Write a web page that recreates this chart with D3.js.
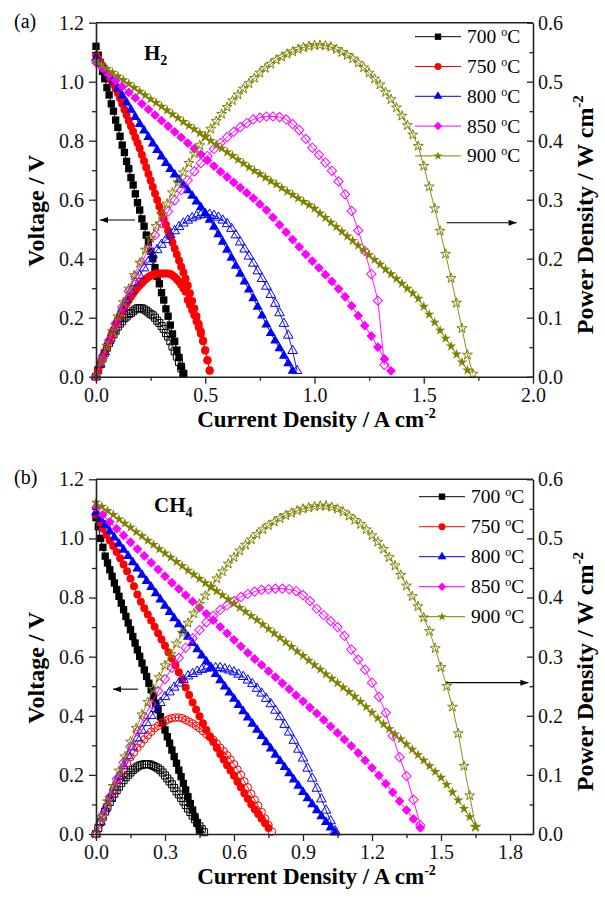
<!DOCTYPE html>
<html>
<head>
<meta charset="utf-8">
<script src="https://cdn.jsdelivr.net/npm/d3@7"></script>
<style>
  body { margin: 0; background: #fff; }
  svg text { font-family: "Liberation Serif", "Times New Roman", serif; }
</style>
</head>
<body>
<svg id="chart" width="605" height="899"></svg>
<script>
// ---------------- data ----------------
const temperatures = ["700", "750", "800", "850", "900"];
const seriesColors = ["#000000", "#ff0000", "#0000ff", "#ff00ff", "#808000"];

const voltageTicks = [0, 0.2, 0.4, 0.6, 0.8, 1.0, 1.2];
const voltageMinor = [0.1, 0.3, 0.5, 0.7, 0.9, 1.1];
const powerTicks = [0, 0.1, 0.2, 0.3, 0.4, 0.5, 0.6];
const powerMinor = [0.05, 0.15, 0.25, 0.35, 0.45, 0.55];
const h2CurrentTicks = [0, 0.5, 1.0, 1.5, 2.0];
const h2CurrentMinor = [0.25, 0.75, 1.25, 1.75];
const ch4CurrentTicks = [0, 0.3, 0.6, 0.9, 1.2, 1.5, 1.8];
const ch4CurrentMinor = [0.15, 0.45, 0.75, 1.05, 1.35, 1.65];

// (a) H2 fuel: current sweep step (A cm-2) per temperature; point i sits at i * step
const h2Step = [0.01, 0.01, 0.02, 0.03, 0.025];
// cell voltage (V)
const h2V700 = [1.12,1.09,1.065,1.035,1.01,0.98,0.955,0.925,0.90,0.87,0.845,0.815,0.785,0.76,0.73,0.705,0.675,0.65,0.62,0.59,0.565,0.535,0.51,0.48,0.455,0.425,0.40,0.37,0.34,0.315,0.285,0.26,0.23,0.205,0.175,0.145,0.12,0.09,0.065,0.035,0.01];
const h2V750 = [1.090,1.078,1.066,1.054,1.042,1.030,1.017,1.004,0.991,0.978,0.962,0.944,0.925,0.906,0.887,0.868,0.849,0.830,0.811,0.792,0.774,0.752,0.731,0.709,0.687,0.665,0.643,0.621,0.599,0.577,0.556,0.535,0.515,0.495,0.475,0.455,0.435,0.414,0.394,0.373,0.353,0.332,0.309,0.283,0.257,0.231,0.205,0.179,0.153,0.123,0.089,0.056,0.022];
const h2V800 = [1.080,1.060,1.040,1.020,1.000,0.977,0.953,0.929,0.905,0.880,0.856,0.834,0.812,0.790,0.768,0.746,0.724,0.704,0.685,0.667,0.650,0.632,0.613,0.594,0.574,0.554,0.532,0.508,0.483,0.457,0.430,0.403,0.376,0.349,0.322,0.295,0.266,0.237,0.207,0.177,0.148,0.122,0.096,0.071,0.045,0.020];
const h2V850 = [1.065,1.045,1.024,1.004,0.983,0.964,0.945,0.925,0.906,0.887,0.868,0.849,0.830,0.811,0.792,0.773,0.754,0.734,0.714,0.695,0.677,0.659,0.641,0.623,0.605,0.585,0.565,0.540,0.515,0.490,0.465,0.440,0.415,0.392,0.369,0.346,0.323,0.298,0.271,0.240,0.207,0.173,0.138,0.100,0.060,0.020];
const h2V900 = [1.070,1.057,1.044,1.031,1.019,1.006,0.993,0.980,0.967,0.954,0.941,0.929,0.916,0.903,0.890,0.877,0.864,0.851,0.839,0.826,0.813,0.800,0.787,0.774,0.761,0.749,0.736,0.723,0.710,0.698,0.687,0.675,0.663,0.652,0.640,0.628,0.617,0.605,0.593,0.582,0.570,0.554,0.539,0.523,0.508,0.492,0.476,0.461,0.445,0.429,0.413,0.397,0.381,0.364,0.348,0.332,0.316,0.299,0.283,0.265,0.238,0.211,0.184,0.157,0.130,0.103,0.076,0.049,0.022];
// power density (W cm-2)
const h2P700 = [0,0.011,0.021,0.031,0.040,0.049,0.057,0.065,0.072,0.078,0.085,0.090,0.094,0.099,0.102,0.106,0.108,0.111,0.114,0.116,0.116,0.116,0.114,0.112,0.109,0.106,0.104,0.100,0.095,0.091,0.086,0.081,0.074,0.068,0.060,0.051,0.043,0.034,0.025,0.014,0.005];
const h2P750 = [0,0.011,0.021,0.032,0.042,0.052,0.061,0.070,0.079,0.088,0.096,0.104,0.111,0.118,0.124,0.130,0.136,0.141,0.146,0.151,0.155,0.159,0.163,0.166,0.169,0.171,0.173,0.174,0.175,0.175,0.175,0.175,0.175,0.175,0.174,0.172,0.169,0.165,0.161,0.156,0.150,0.144,0.130,0.122,0.113,0.104,0.094,0.084,0.073,0.060,0.045,0.028,0.010];
const h2P800 = [0,0.021,0.042,0.061,0.080,0.098,0.115,0.130,0.145,0.159,0.171,0.184,0.195,0.206,0.215,0.224,0.232,0.240,0.247,0.254,0.260,0.265,0.269,0.272,0.274,0.275,0.275,0.273,0.270,0.265,0.259,0.251,0.240,0.228,0.216,0.204,0.192,0.179,0.166,0.153,0.139,0.124,0.108,0.090,0.070,0.044,0.010];
const h2P850 = [0,0.031,0.061,0.090,0.118,0.145,0.170,0.194,0.217,0.240,0.260,0.280,0.299,0.316,0.333,0.348,0.362,0.374,0.386,0.396,0.406,0.415,0.423,0.430,0.436,0.439,0.441,0.441,0.440,0.436,0.428,0.418,0.403,0.388,0.376,0.363,0.349,0.331,0.309,0.281,0.248,0.213,0.174,0.129,0.020];
const h2P900 = [0,0.026,0.052,0.077,0.102,0.126,0.149,0.172,0.193,0.215,0.235,0.255,0.275,0.293,0.312,0.329,0.346,0.362,0.378,0.392,0.407,0.420,0.433,0.445,0.457,0.468,0.478,0.488,0.497,0.506,0.515,0.523,0.530,0.537,0.542,0.547,0.551,0.555,0.558,0.560,0.562,0.562,0.561,0.559,0.555,0.550,0.545,0.539,0.532,0.524,0.515,0.505,0.495,0.482,0.470,0.456,0.442,0.426,0.410,0.391,0.357,0.322,0.285,0.247,0.208,0.167,0.125,0.082,0.037,0.005];

// (b) CH4 fuel
const ch4Step = [0.01, 0.015, 0.02, 0.03, 0.025];
const ch4V700 = [1.07,1.04,1.00,0.97,0.94,0.917,0.894,0.872,0.849,0.827,0.804,0.781,0.759,0.736,0.714,0.691,0.668,0.646,0.623,0.601,0.578,0.555,0.533,0.510,0.488,0.465,0.442,0.420,0.397,0.375,0.352,0.329,0.307,0.284,0.262,0.239,0.216,0.194,0.171,0.149,0.126,0.103,0.081,0.058,0.036,0.013];
const ch4V750 = [1.080,1.055,1.033,1.012,0.993,0.974,0.954,0.933,0.912,0.889,0.864,0.838,0.810,0.786,0.764,0.743,0.722,0.701,0.679,0.658,0.637,0.615,0.594,0.571,0.547,0.522,0.496,0.470,0.445,0.421,0.398,0.375,0.352,0.331,0.311,0.291,0.271,0.252,0.233,0.215,0.197,0.177,0.158,0.138,0.119,0.101,0.084,0.068,0.052,0.036,0.020];
const ch4V800 = [1.088,1.065,1.045,1.024,1.003,0.982,0.961,0.940,0.919,0.898,0.877,0.856,0.835,0.814,0.793,0.772,0.751,0.730,0.709,0.688,0.667,0.646,0.625,0.604,0.583,0.562,0.541,0.520,0.499,0.478,0.457,0.436,0.415,0.394,0.373,0.352,0.331,0.310,0.289,0.268,0.247,0.226,0.205,0.184,0.163,0.142,0.121,0.100,0.080,0.060,0.040,0.022,0.005];
const ch4V850 = [1.105,1.080,1.056,1.033,1.010,0.987,0.964,0.941,0.918,0.895,0.872,0.850,0.829,0.808,0.787,0.766,0.745,0.723,0.701,0.679,0.657,0.635,0.613,0.592,0.572,0.551,0.531,0.510,0.490,0.469,0.449,0.428,0.408,0.386,0.364,0.342,0.320,0.298,0.274,0.249,0.224,0.198,0.170,0.141,0.111,0.081,0.051,0.021];
const ch4V900 = [1.122,1.108,1.094,1.080,1.065,1.051,1.037,1.022,1.008,0.993,0.979,0.964,0.950,0.936,0.921,0.907,0.892,0.878,0.864,0.849,0.836,0.822,0.808,0.794,0.780,0.766,0.752,0.738,0.724,0.709,0.694,0.679,0.664,0.649,0.634,0.618,0.603,0.587,0.572,0.557,0.541,0.526,0.511,0.496,0.481,0.465,0.448,0.430,0.411,0.392,0.372,0.355,0.338,0.321,0.304,0.286,0.268,0.249,0.230,0.211,0.191,0.167,0.141,0.114,0.086,0.058,0.025];
const ch4P700 = [0,0.010,0.020,0.029,0.038,0.046,0.054,0.061,0.068,0.074,0.080,0.086,0.091,0.096,0.100,0.104,0.108,0.111,0.114,0.116,0.117,0.118,0.118,0.118,0.117,0.115,0.113,0.111,0.108,0.104,0.099,0.094,0.089,0.084,0.078,0.072,0.067,0.061,0.055,0.049,0.043,0.037,0.031,0.025,0.019,0.013,0.008,0.003];
const ch4P750 = [0,0.016,0.031,0.046,0.060,0.073,0.086,0.098,0.109,0.120,0.130,0.138,0.146,0.153,0.160,0.167,0.173,0.179,0.183,0.188,0.191,0.194,0.196,0.197,0.197,0.196,0.193,0.190,0.187,0.183,0.179,0.174,0.169,0.164,0.159,0.153,0.146,0.140,0.133,0.126,0.118,0.109,0.100,0.089,0.079,0.068,0.058,0.048,0.037,0.026,0.015,0.004];
const ch4P800 = [0,0.021,0.042,0.061,0.080,0.098,0.115,0.132,0.147,0.162,0.175,0.188,0.200,0.212,0.222,0.232,0.240,0.248,0.255,0.261,0.267,0.271,0.275,0.278,0.280,0.281,0.281,0.281,0.279,0.277,0.274,0.270,0.266,0.260,0.254,0.246,0.238,0.229,0.220,0.209,0.198,0.185,0.172,0.158,0.143,0.128,0.111,0.094,0.077,0.059,0.040,0.022,0.005];
const ch4P850 = [0,0.032,0.063,0.093,0.121,0.148,0.174,0.198,0.220,0.242,0.262,0.281,0.298,0.315,0.331,0.345,0.358,0.369,0.379,0.387,0.394,0.401,0.406,0.410,0.413,0.414,0.415,0.415,0.414,0.411,0.404,0.394,0.381,0.370,0.360,0.350,0.335,0.312,0.295,0.278,0.256,0.232,0.205,0.166,0.130,0.098,0.058,0.015];
const ch4P900 = [0,0.028,0.055,0.081,0.107,0.131,0.156,0.179,0.202,0.223,0.245,0.265,0.285,0.304,0.322,0.340,0.357,0.373,0.389,0.403,0.418,0.432,0.444,0.457,0.468,0.479,0.489,0.498,0.507,0.515,0.522,0.528,0.534,0.539,0.543,0.547,0.550,0.552,0.554,0.555,0.555,0.553,0.550,0.545,0.538,0.531,0.524,0.515,0.505,0.494,0.482,0.468,0.454,0.438,0.420,0.402,0.385,0.366,0.343,0.314,0.282,0.250,0.215,0.170,0.115,0.065,0.012];

// ---------------- drawing ----------------
const svg = d3.select("#chart");
const AXIS_COLOR = "#222";
const symbolTypes = [d3.symbolSquare, d3.symbolCircle, d3.symbolTriangle, d3.symbolSquare, d3.symbolStar];
const symbolSizes = [54, 50, 44, 48, 34];
const fmt = d3.format(".1f");

function symbolPath(k, scale) {
  return d3.symbol().type(symbolTypes[k]).size(symbolSizes[k] * (scale || 1))();
}
function symbolTransform(k, px, py) {
  return `translate(${px},${py})` + (k === 3 ? " rotate(45)" : "");
}

function styleAxis(g, fontSize) {
  g.attr("font-family", null).attr("font-size", null);
  g.selectAll("path.domain").attr("stroke", AXIS_COLOR).attr("stroke-width", 1.6);
  g.selectAll(".tick line").attr("stroke", AXIS_COLOR).attr("stroke-width", 1.3);
  g.selectAll(".tick text").attr("font-size", fontSize).attr("fill", "#111");
}

function addArrow(g, x1, y1, x2, y2) {
  g.append("line").attr("x1", x1).attr("y1", y1).attr("x2", x2).attr("y2", y2)
    .attr("stroke", "#000").attr("stroke-width", 1.1);
  const dir = Math.sign(x2 - x1);
  g.append("path")
    .attr("d", `M${x2},${y2} L${x2 - dir * 8},${y2 - 3} L${x2 - dir * 8},${y2 + 3} Z`)
    .attr("fill", "#000");
}

function drawPanel(cfg) {
  const g = svg.append("g");
  const x = d3.scaleLinear().domain([0, cfg.xMax]).range([cfg.left, cfg.right]);
  const yV = d3.scaleLinear().domain([0, 1.2]).range([cfg.bottom, cfg.top]);
  const yP = d3.scaleLinear().domain([0, 0.6]).range([cfg.bottom, cfg.top]);

  // series: voltage (filled markers) then power (open markers) for each temperature
  const plot = g.append("g");
  cfg.volt.forEach((vals, k) => {
    const step = cfg.steps[k];
    const color = seriesColors[k];
    const vPts = vals.map((v, i) => [i * step, v]);
    const pPts = cfg.power[k].map((p, i) => [i * step, p]);

    plot.append("path").datum(vPts)
      .attr("d", d3.line().x(d => x(d[0])).y(d => yV(d[1])))
      .attr("fill", "none").attr("stroke", color).attr("stroke-width", 1);
    plot.append("g").selectAll("path").data(vPts).join("path")
      .attr("d", symbolPath(k))
      .attr("transform", d => symbolTransform(k, x(d[0]), yV(d[1])))
      .attr("fill", color).attr("stroke", "none");

    const filledPower = cfg.filledPower[k];
    plot.append("path").datum(pPts)
      .attr("d", d3.line().x(d => x(d[0])).y(d => yP(d[1])))
      .attr("fill", "none").attr("stroke", color).attr("stroke-width", 0.9);
    plot.append("g").selectAll("path").data(pPts).join("path")
      .attr("d", symbolPath(k, filledPower ? 1 : 0.9))
      .attr("transform", d => symbolTransform(k, x(d[0]), yP(d[1])))
      .attr("fill", filledPower ? color : "none")
      .attr("stroke", filledPower ? "none" : color)
      .attr("stroke-width", 1);
  });

  // axes
  const left = g.append("g").attr("transform", `translate(${cfg.left},0)`)
    .call(d3.axisLeft(yV).tickValues(voltageTicks).tickFormat(fmt).tickSizeInner(7).tickSizeOuter(0).tickPadding(5));
  styleAxis(left, 20);
  const leftMinor = g.append("g").attr("transform", `translate(${cfg.left},0)`)
    .call(d3.axisLeft(yV).tickValues(voltageMinor).tickFormat("").tickSizeInner(4).tickSizeOuter(0));
  leftMinor.select(".domain").remove();
  styleAxis(leftMinor, 20);

  const right = g.append("g").attr("transform", `translate(${cfg.right},0)`)
    .call(d3.axisRight(yP).tickValues(powerTicks).tickFormat(fmt).tickSizeInner(-6).tickSizeOuter(0).tickPadding(5));
  styleAxis(right, 20);
  const rightMinor = g.append("g").attr("transform", `translate(${cfg.right},0)`)
    .call(d3.axisRight(yP).tickValues(powerMinor).tickFormat("").tickSizeInner(-3.5).tickSizeOuter(0));
  rightMinor.select(".domain").remove();
  styleAxis(rightMinor, 20);

  const bottom = g.append("g").attr("transform", `translate(0,${cfg.bottom})`)
    .call(d3.axisBottom(x).tickValues(cfg.xTicks).tickFormat(fmt).tickSizeInner(7).tickSizeOuter(0).tickPadding(4));
  styleAxis(bottom, 20);
  const bottomMinor = g.append("g").attr("transform", `translate(0,${cfg.bottom})`)
    .call(d3.axisBottom(x).tickValues(cfg.xMinor).tickFormat("").tickSizeInner(4).tickSizeOuter(0));
  bottomMinor.select(".domain").remove();
  styleAxis(bottomMinor, 20);

  g.append("line")
    .attr("x1", cfg.left).attr("x2", cfg.right).attr("y1", cfg.top).attr("y2", cfg.top)
    .attr("stroke", AXIS_COLOR).attr("stroke-width", 1.6);

  // axis titles
  const midY = (cfg.top + cfg.bottom) / 2;
  g.append("text")
    .attr("transform", `translate(44,${midY + 11}) rotate(-90)`)
    .attr("text-anchor", "middle").attr("font-weight", "bold").attr("font-size", 24)
    .text("Voltage / V");
  const pt = g.append("text")
    .attr("transform", `translate(593,${midY + 15}) rotate(-90)`)
    .attr("text-anchor", "middle").attr("font-weight", "bold").attr("font-size", 24);
  pt.append("tspan").text("Power Density / W cm");
  pt.append("tspan").attr("dy", -10).attr("font-size", 15).text("-2");
  const xt = g.append("text")
    .attr("x", (cfg.left + cfg.right) / 2 + 2).attr("y", cfg.bottom + 50)
    .attr("text-anchor", "middle").attr("font-weight", "bold").attr("font-size", 23);
  xt.append("tspan").text("Current Density / A cm");
  xt.append("tspan").attr("dy", -9).attr("font-size", 14).text("-2");

  // panel letter and fuel label
  g.append("text").attr("x", 14).attr("y", cfg.top + 5).attr("font-size", 20).text(cfg.letter);
  const fuel = g.append("text").attr("x", cfg.fuelX).attr("y", cfg.fuelY)
    .attr("font-weight", "bold").attr("font-size", 21);
  fuel.append("tspan").text(cfg.fuel[0]);
  fuel.append("tspan").attr("dy", 5).attr("font-size", 14).text(cfg.fuel[1]);

  // arrows pointing to the matching axis
  addArrow(g, x(cfg.leftArrow[0]), yV(cfg.leftArrow[2]), x(cfg.leftArrow[1]), yV(cfg.leftArrow[2]));
  addArrow(g, x(cfg.rightArrow[0]), yP(cfg.rightArrow[2]), x(cfg.rightArrow[1]), yP(cfg.rightArrow[2]));

  // legend
  const lg = g.append("g");
  temperatures.forEach((t, k) => {
    const ly = cfg.legendY + k * cfg.legendGap;
    lg.append("line").attr("x1", cfg.legendX).attr("x2", cfg.legendX + 46)
      .attr("y1", ly).attr("y2", ly).attr("stroke", seriesColors[k]).attr("stroke-width", 1);
    lg.append("path").attr("d", symbolPath(k, 0.75))
      .attr("transform", symbolTransform(k, cfg.legendX + 23, ly))
      .attr("fill", seriesColors[k]);
    const tx = lg.append("text").attr("x", cfg.legendX + 52).attr("y", ly + 6.5).attr("font-size", 19.5);
    tx.append("tspan").text(t + " ");
    tx.append("tspan").attr("dy", -7).attr("font-size", 12).text("o");
    tx.append("tspan").attr("dy", 7).text("C");
  });
}

drawPanel({
  letter: "(a)", fuel: ["H", "2"], fuelX: 144, fuelY: 60,
  left: 96, right: 533, top: 22.7, bottom: 376.7,
  xMax: 2.0, xTicks: h2CurrentTicks, xMinor: h2CurrentMinor,
  steps: h2Step,
  volt: [h2V700, h2V750, h2V800, h2V850, h2V900],
  power: [h2P700, h2P750, h2P800, h2P850, h2P900],
  filledPower: [false, true, false, false, false],
  legendX: 415, legendY: 36.7, legendGap: 29.8,
  leftArrow: [0.178, 0.018, 0.531],
  rightArrow: [1.605, 1.925, 0.261]
});

drawPanel({
  letter: "(b)", fuel: ["CH", "4"], fuelX: 154, fuelY: 512,
  left: 96, right: 533, top: 479.3, bottom: 834,
  xMax: 1.9, xTicks: ch4CurrentTicks, xMinor: ch4CurrentMinor,
  steps: ch4Step,
  volt: [ch4V700, ch4V750, ch4V800, ch4V850, ch4V900],
  power: [ch4P700, ch4P750, ch4P800, ch4P850, ch4P900],
  filledPower: [false, false, false, false, false],
  legendX: 419, legendY: 496.7, legendGap: 30,
  leftArrow: [0.183, 0.074, 0.49],
  rightArrow: [1.525, 1.88, 0.256]
});
</script>
</body>
</html>
